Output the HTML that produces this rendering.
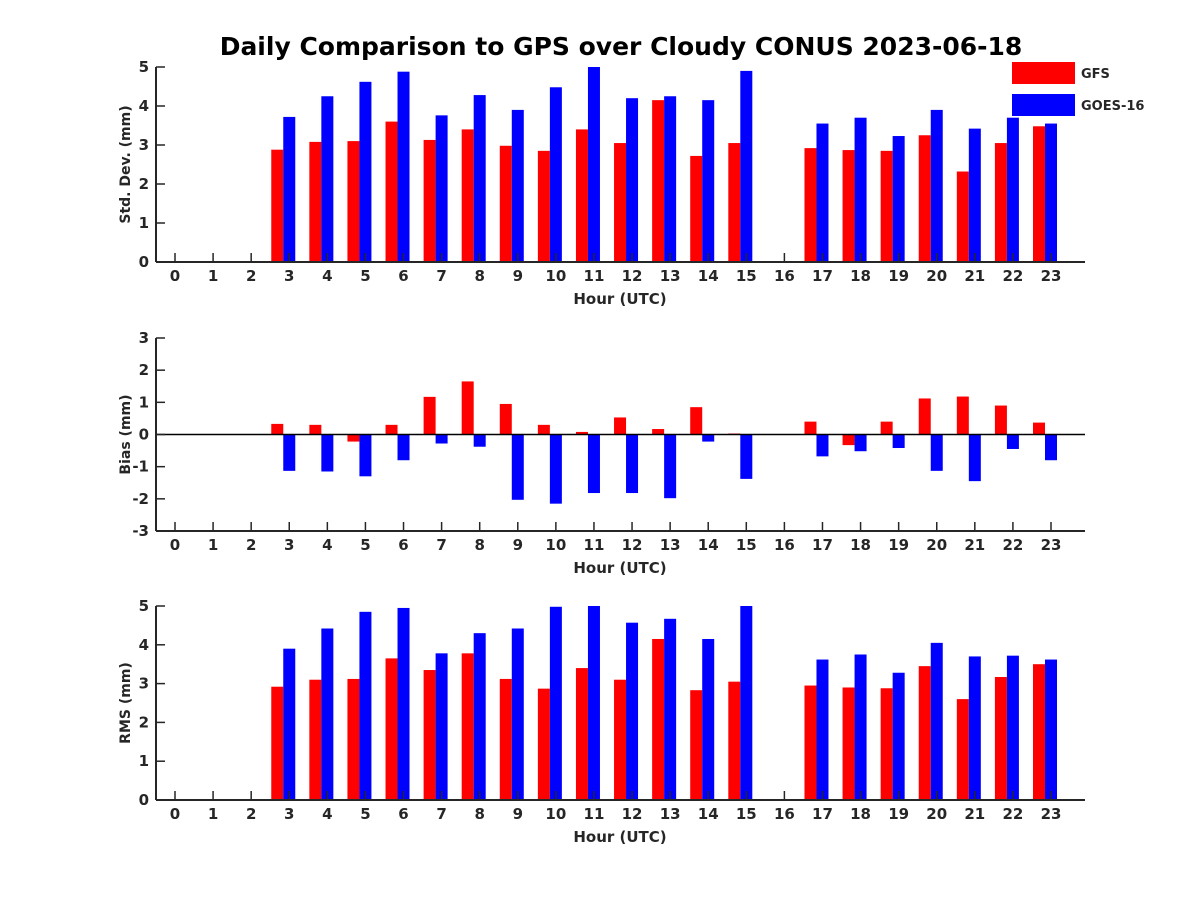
<!DOCTYPE html>
<html><head><meta charset="utf-8"><style>
body{margin:0;background:#fff;}
svg text{font-family:"DejaVu Sans","Liberation Sans",sans-serif;font-weight:bold;fill:#262626;}
</style></head><body>
<svg id="chart" width="1200" height="900" xmlns="http://www.w3.org/2000/svg">
<rect width="1200" height="900" fill="#fff"/>
<text x="621" y="55" font-size="25" text-anchor="middle" style="fill:#000">Daily Comparison to GPS over Cloudy CONUS 2023-06-18</text>
<g>
<rect x="1012" y="62" width="63" height="22" fill="#ff0000"/>
<text x="1081" y="78" font-size="13">GFS</text>
<rect x="1012" y="94" width="63" height="22" fill="#0000ff"/>
<text x="1081" y="110" font-size="13">GOES-16</text>
</g>
</svg>
<script>
const hours=[0,1,2,3,4,5,6,7,8,9,10,11,12,13,14,15,16,17,18,19,20,21,22,23];
const stdGFS=[null,null,null,2.88,3.08,3.1,3.6,3.13,3.4,2.98,2.85,3.4,3.05,4.15,2.72,3.05,null,2.92,2.87,2.85,3.25,2.32,3.05,3.48];
const stdGOES=[null,null,null,3.72,4.25,4.62,4.88,3.76,4.28,3.9,4.48,5.0,4.2,4.25,4.15,4.9,null,3.55,3.7,3.23,3.9,3.42,3.7,3.55];
const biasGFS=[null,null,null,0.33,0.3,-0.22,0.3,1.17,1.65,0.95,0.3,0.08,0.53,0.17,0.85,0.03,null,0.4,-0.33,0.4,1.12,1.18,0.9,0.37];
const biasGOES=[null,null,null,-1.13,-1.15,-1.3,-0.8,-0.28,-0.38,-2.03,-2.15,-1.82,-1.82,-1.98,-0.22,-1.38,null,-0.68,-0.52,-0.42,-1.13,-1.45,-0.45,-0.8];
const rmsGFS=[null,null,null,2.92,3.1,3.12,3.65,3.35,3.78,3.12,2.87,3.4,3.1,4.15,2.83,3.05,null,2.95,2.9,2.88,3.45,2.6,3.17,3.5];
const rmsGOES=[null,null,null,3.9,4.42,4.85,4.95,3.78,4.3,4.42,4.98,5.0,4.57,4.67,4.15,5.0,null,3.62,3.75,3.28,4.05,3.7,3.72,3.62];
const stdTicks=[0,1,2,3,4,5];
const biasTicks=[-3,-2,-1,0,1,2,3];
const rmsTicks=[0,1,2,3,4,5];

const svg=document.getElementById('chart');
const NS='http://www.w3.org/2000/svg';
function mk(tag,attrs,parent){const e=document.createElementNS(NS,tag);for(const k in attrs)e.setAttribute(k,attrs[k]);(parent||svg).appendChild(e);return e;}
const xL=156,xR=1085;
function xs(h){return 175+h*(1051-175)/23;}
const bw=12;

function panel(name,top,bottom,ymin,ymax,ticks,gfs,goes,ylabel,zeroLine){
  const g=mk('g',{});
  
  
  const ys=v=>bottom-(v-ymin)/(ymax-ymin)*(bottom-top);
  hours.forEach((h,i)=>{
    if(gfs[i]!==null){
      const y0=ys(0),y1=ys(gfs[i]);
      const r=mk('rect',{x:xs(h)-bw*1.5,y:Math.min(y0,y1),width:bw,height:Math.abs(y1-y0),fill:'#ff0000'},g);
      
      
    }
    if(goes[i]!==null){
      const y0=ys(0),y1=ys(goes[i]);
      const r=mk('rect',{x:xs(h)-bw/2,y:Math.min(y0,y1),width:bw,height:Math.abs(y1-y0),fill:'#0000ff'},g);
      
      
    }
  });
  if(zeroLine) mk('line',{x1:xL,x2:xR,y1:ys(0),y2:ys(0),stroke:'#000','stroke-width':1.5},g);
  mk('line',{x1:xL,x2:xR,y1:bottom,y2:bottom,stroke:'#262626','stroke-width':2},g);
  mk('line',{x1:xL,x2:xL,y1:top,y2:bottom,stroke:'#262626','stroke-width':2},g);
  hours.forEach(h=>{
    mk('line',{x1:xs(h),x2:xs(h),y1:bottom,y2:bottom-9,stroke:'#262626','stroke-width':1.5},g);
    const t=mk('text',{x:xs(h),y:bottom+19,'font-size':15,'text-anchor':'middle'},g);
    t.textContent=h;
    
    
  });
  ticks.forEach(v=>{
    mk('line',{x1:xL,x2:xL+9,y1:ys(v),y2:ys(v),stroke:'#262626','stroke-width':1.5},g);
    const t=mk('text',{x:xL-7,y:ys(v)+5,'font-size':15,'text-anchor':'end'},g);
    t.textContent=v;
    
    
  });
  const xt=mk('text',{x:620,y:bottom+42,'font-size':15,'text-anchor':'middle'},g);
  xt.textContent='Hour (UTC)';
  
  
  const cy=(top+bottom)/2;
  const yt=mk('text',{x:130,y:cy,'font-size':14,'text-anchor':'middle',transform:'rotate(-90 130 '+cy+')'},g);
  yt.textContent=ylabel;
  
  
}
panel('std-dev',67,262,0,5,stdTicks,stdGFS,stdGOES,'Std. Dev. (mm)',false);
panel('bias',338,531,-3,3,biasTicks,biasGFS,biasGOES,'Bias (mm)',true);
panel('rms',606,800,0,5,rmsTicks,rmsGFS,rmsGOES,'RMS (mm)',false);
</script>
</body></html>
